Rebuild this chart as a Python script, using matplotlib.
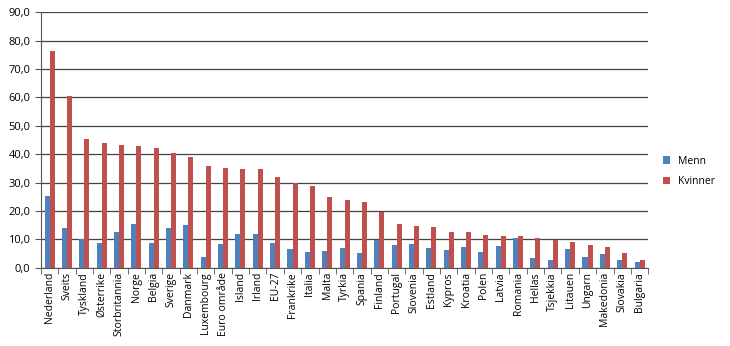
import numpy as np
import matplotlib.pyplot as plt
from matplotlib.ticker import FuncFormatter, FixedLocator

plt.rcParams['font.family'] = ['Open Sans', 'DejaVu Sans']

land = ['Nederland', 'Sveits', 'Tyskland', 'Østerrike', 'Storbritannia', 'Norge',
        'Belgia', 'Sverige', 'Danmark', 'Luxembourg', 'Euro område', 'Island',
        'Irland', 'EU-27', 'Frankrike', 'Italia', 'Malta', 'Tyrkia', 'Spania',
        'Finland', 'Portugal', 'Slovenia', 'Estland', 'Kypros', 'Kroatia', 'Polen',
        'Latvia', 'Romania', 'Hellas', 'Tsjekkia', 'Litauen', 'Ungarn',
        'Makedonia', 'Slovakia', 'Bulgaria']
menn = [25.2, 14.0, 10.0, 8.9, 12.6, 15.4, 8.9, 14.0, 15.0, 3.9, 8.3, 11.9,
        11.8, 8.6, 6.6, 5.4, 5.9, 6.8, 5.3, 9.9, 8.1, 8.5, 7.0, 6.4, 7.3, 5.5,
        7.7, 10.5, 3.5, 2.8, 6.5, 3.7, 4.8, 2.7, 2.0]
kvinner = [76.4, 60.6, 45.5, 43.8, 43.2, 42.8, 42.1, 40.4, 39.0, 35.9, 35.1, 34.7,
           34.7, 31.9, 30.0, 28.9, 24.8, 23.9, 23.2, 19.5, 15.4, 14.7, 14.4, 12.7,
           12.5, 11.4, 11.2, 11.2, 10.4, 9.8, 9.2, 7.9, 7.2, 5.3, 2.6]

blue = '#4F81BD'
red = '#C0504D'

fig = plt.figure(figsize=(7.3, 3.46), dpi=100)
ax = fig.add_axes([0.056, 0.226, 0.832, 0.739])

x = np.arange(len(land))
w = 0.29
ax.bar(x - w / 2, menn, w, color=blue, label='Menn', zorder=3)
ax.bar(x + w / 2, kvinner, w, color=red, label='Kvinner', zorder=3)

ax.set_xlim(-0.5, len(land) - 0.5)
ax.set_ylim(0, 90)
ax.set_yticks(np.arange(0, 91, 10))
ax.yaxis.set_major_formatter(FuncFormatter(lambda v, p: f'{v:.1f}'.replace('.', ',')))
ax.yaxis.grid(True, color='#444444', lw=0.9, zorder=0)

ax.set_xticks(x)
ax.set_xticklabels(land, rotation=90, fontsize=7.5)
ax.xaxis.set_minor_locator(FixedLocator(np.arange(-0.5, len(land), 1)))
ax.tick_params(axis='x', which='major', length=0, pad=3)
ax.tick_params(axis='x', which='minor', length=4, color='#555555')
ax.tick_params(axis='y', labelsize=8, length=4, color='#555555')

for s in ['top', 'right']:
    ax.spines[s].set_visible(False)
for s in ['left', 'bottom']:
    ax.spines[s].set_color('#555555')

fig.legend(loc='center left', bbox_to_anchor=(0.895, 0.505), frameon=False,
           fontsize=7.5, handlelength=0.7, handleheight=0.7, handletextpad=0.8,
           labelspacing=0.9)

fig.savefig('out.png', dpi=100)
